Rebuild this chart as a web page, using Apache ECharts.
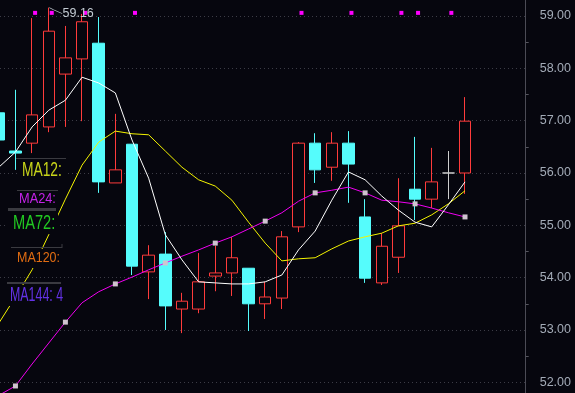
<!DOCTYPE html>
<html>
<head>
<meta charset="utf-8">
<script src="https://cdn.jsdelivr.net/npm/echarts@6/dist/echarts.min.js"></script>
<style>
html,body{margin:0;padding:0;background:#06060e;}
#chart{width:575px;height:393px;}
</style>
</head>
<body>
<div id="chart"></div>
<script>
// ---- data ----
const categories = ['1','2','3','4','5','6','7','8','9','10','11','12','13','14','15','16',
                    '17','18','19','20','21','22','23','24','25','26','27','28','29','30','31','32'];
// [open, close, low, high]
const ohlc = [
  [57.15, 56.63, 56.55, 57.25],
  [56.42, 56.38, 56.06, 57.59],
  [56.57, 57.11, 56.38, 58.96],
  [56.88, 58.71, 56.78, 59.16],
  [57.89, 58.20, 56.88, 58.81],
  [58.18, 58.89, 56.99, 59.04],
  [58.48, 55.83, 55.62, 58.98],
  [55.81, 56.06, 55.81, 57.13],
  [56.55, 54.22, 54.05, 56.55],
  [54.11, 54.43, 53.59, 54.62],
  [54.45, 53.46, 53.00, 54.87],
  [53.40, 53.55, 52.94, 53.71],
  [53.40, 53.92, 53.32, 54.47],
  [54.03, 54.09, 53.74, 54.61],
  [54.09, 54.38, 53.65, 54.78],
  [54.18, 53.50, 52.98, 54.18],
  [53.50, 53.63, 53.21, 53.92],
  [53.61, 54.78, 53.40, 54.89],
  [54.97, 56.57, 54.87, 56.59],
  [56.57, 56.06, 55.81, 56.76],
  [56.11, 56.57, 55.85, 56.78],
  [56.57, 56.17, 55.43, 56.80],
  [55.16, 53.99, 53.90, 55.50],
  [53.90, 54.60, 53.86, 54.85],
  [54.39, 54.99, 54.09, 55.90],
  [55.69, 55.50, 55.10, 56.69],
  [55.50, 55.83, 55.33, 56.48],
  [56.00, 56.00, 55.50, 56.42],
  [56.00, 56.99, 55.60, 57.45]
];
const maWhite = [56.11, 56.40, 56.88, 57.20, 57.39, 57.83, 57.72, 57.53, 56.63, 55.90,
                 54.82, 54.34, 53.92, 53.90, 53.88, 53.88, 53.92, 54.05, 54.53, 54.89,
                 55.48, 56.02, 55.87, 55.56, 55.29, 55.06, 54.97, 55.39, 55.83];
const maYellow = [53.13, 53.63, 54.15, 54.82, 55.50, 56.15, 56.59, 56.80, 56.75, 56.73,
                  56.42, 56.11, 55.87, 55.75, 55.48, 55.06, 54.66, 54.32, 54.36, 54.38,
                  54.55, 54.70, 54.78, 54.85, 54.99, 55.04, 55.20, 55.41, 55.66];
const maMagenta = [51.75, 51.93, 52.35, 52.75, 53.15, 53.52, 53.73, 53.88, 54.01, 54.15,
                   54.28, 54.41, 54.53, 54.66, 54.78, 54.93, 55.08, 55.24, 55.46, 55.62,
                   55.67, 55.73, 55.62, 55.48, 55.45, 55.41, 55.33, 55.24, 55.16];
const magentaMarkerIdx = [1, 4, 7, 10, 13, 16, 19, 22, 25, 28];
const signalIdx = [2, 3, 5, 8, 18, 21, 24, 25, 27];
const signalLevel = 59.06;
const highIdx = 3;
const highValue = 59.16;
const yMin = 52, yMax = 59, yStep = 1;
// visible index window of the category slots (first candle is cut by the left edge)
const xWindow = [0.072, 31.645];
const maLabels = ['MA12:', 'MA24:', 'MA72:', 'MA120:', 'MA144: 4'];
const maColors = ['#c8d41a', '#c322e6', '#22c822', '#e06c12', '#6432e6'];

// ---- chart ----
const BG = '#06060e';
const RED = '#ff3b3b';
const CYAN = '#55fcfc';
const FONT = '"Liberation Sans", Arial, sans-serif';
const chart = echarts.init(document.getElementById('chart'), null, {renderer: 'canvas'});

const candleData = ohlc.map((d, i) => [i, d[0], d[1], d[2], d[3]]);
const magentaData = maMagenta.map((v, i) => magentaMarkerIdx.indexOf(i) >= 0
  ? {value: [i, v], symbol: 'rect', symbolSize: 5, itemStyle: {color: '#cfc4cf'}}
  : {value: [i, v], symbol: 'none'});

// label layout (pixels)
const lab = [
  {x: 22, y: 170, size: 20, sx: 0.69, box: [17, 159, 49, 21], sep: [16, 158.5, 66, 158.5, 1]},
  {x: 19, y: 199, size: 14.5, sx: 0.88, box: [15, 192, 43, 15], sep: [17, 190.5, 58, 190.5, 1]},
  {x: 13, y: 223, size: 20, sx: 0.73, box: [8, 212, 50, 22], sep: [8, 209.5, 56, 209.5, 3]},
  {x: 17, y: 258, size: 14.5, sx: 0.86, box: [10, 249, 53, 19], sep: [11, 247.5, 62, 247.5, 1]},
  {x: 10, y: 295, size: 20, sx: 0.62, box: [5, 285, 58, 21], sep: [7, 283, 61, 283, 2]}
];
const graphics = [];
lab.forEach((l, i) => {
  graphics.push({type: 'rect', z: 100, shape: {x: l.box[0], y: l.box[1], width: l.box[2], height: l.box[3]},
    style: {fill: BG}, silent: true});
  graphics.push({type: 'line', z: 101, shape: {x1: l.sep[0], y1: l.sep[1], x2: l.sep[2], y2: l.sep[3]},
    style: {stroke: '#3a3a40', lineWidth: l.sep[4]}, silent: true});
  graphics.push({type: 'text', z: 102, x: l.x, y: l.y, scaleX: l.sx, silent: true,
    style: {text: maLabels[i], fill: maColors[i], font: l.size + 'px ' + FONT,
      textAlign: 'left', textVerticalAlign: 'middle'}});
});
graphics.push({type: 'line', z: 101, shape: {x1: 62, y1: 244, x2: 62, y2: 248},
  style: {stroke: '#3a3a40', lineWidth: 1}, silent: true});

const option = {
  backgroundColor: BG,
  animation: false,
  grid: [
    {left: 0, right: 49.3, top: 16, bottom: 10.7},
    {left: 0, right: 49.3, top: 0, bottom: 0}
  ],
  xAxis: [
    {type: 'value', gridIndex: 0, min: xWindow[0], max: xWindow[1], show: false,
     axisLabel: {formatter: v => categories[Math.round(v)] || ''}},
    {type: 'value', gridIndex: 1, min: xWindow[0], max: xWindow[1], show: false}
  ],
  yAxis: [
    {
      type: 'value', gridIndex: 0, position: 'right', min: yMin, max: yMax, interval: yStep,
      axisLine: {show: false},
      axisTick: {show: false},
      minorTick: {show: true, splitNumber: 2, length: 3, lineStyle: {color: '#55555e', width: 1}},
      axisLabel: {
        color: '#a3abb7', fontSize: 12.5, fontFamily: FONT, margin: 14,
        formatter: v => v.toFixed(2)
      },
      splitLine: {show: true, lineStyle: {color: '#3c3c46', type: [1, 3], width: 1}}
    },
    {
      type: 'value', gridIndex: 1, position: 'right', min: 0, max: 1,
      axisLine: {show: true, lineStyle: {color: '#4b4b55', width: 1}},
      axisTick: {show: false}, axisLabel: {show: false}, splitLine: {show: false}
    }
  ],
  graphic: {elements: graphics},
  series: [
    {
      type: 'candlestick', xAxisIndex: 0, yAxisIndex: 0, data: candleData, barWidth: 12, clip: false,
      encode: {x: 0, y: [1, 2, 3, 4]},
      itemStyle: {
        color: BG, color0: CYAN, borderColor: RED, borderColor0: CYAN,
        borderColorDoji: '#cfcfcf', borderWidth: 1
      }
    },
    {
      type: 'line', data: maYellow.map((v, i) => [i, v]), showSymbol: false, clip: false, z: 3,
      lineStyle: {color: '#f4f400', width: 1}, itemStyle: {color: '#f4f400'}
    },
    {
      type: 'line', data: magentaData, showSymbol: true, showAllSymbol: true, symbol: 'none', clip: false, z: 3,
      lineStyle: {color: '#f000f0', width: 1}, itemStyle: {color: '#f000f0'}
    },
    {
      type: 'line', data: maWhite.map((v, i) => [i, v]), showSymbol: false, clip: false, z: 4,
      lineStyle: {color: '#ffffff', width: 1}, itemStyle: {color: '#ffffff'}
    },
    {
      type: 'scatter', data: signalIdx.map(i => [i, signalLevel]), symbol: 'rect', symbolSize: 4,
      symbolOffset: [3, 0], clip: false, itemStyle: {color: '#ff00ff', opacity: 1}, z: 5
    },
    {
      // highest-price annotation
      type: 'scatter', data: [[highIdx, highValue]], clip: false, z: 6,
      symbol: 'path://M0,0 L4,2 L13,6', symbolSize: [13, 6], symbolOffset: [7, 3],
      itemStyle: {color: 'transparent', borderColor: '#c0c8d0', borderWidth: 1, opacity: 1},
      label: {
        show: true, position: [14, 6], align: 'left', verticalAlign: 'middle',
        color: '#c3cbd3', fontSize: 12.5, fontFamily: FONT,
        formatter: p => p.value[1].toFixed(2)
      }
    }
  ]
};
chart.setOption(option);
</script>
</body>
</html>
